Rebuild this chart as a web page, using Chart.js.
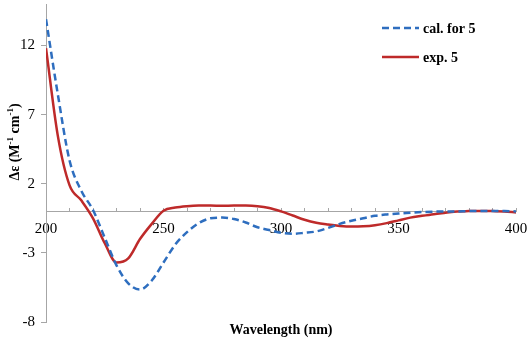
<!DOCTYPE html>
<html>
<head>
<meta charset="utf-8">
<script src="https://cdn.jsdelivr.net/npm/chart.js@4/dist/chart.umd.min.js"></script>
<style>
  html, body { margin: 0; padding: 0; background: #fff; }
  #wrap { width: 529px; height: 340px; position: relative; }
</style>
</head>
<body>
<div id="wrap"><canvas id="cd"></canvas></div>
<script>
const wavelengths = [200, 205, 210, 215, 220, 225, 230, 235, 240, 245, 250, 255, 260, 265, 270, 275, 280, 285, 290, 295,
    300, 305, 310, 315, 320, 325, 330, 335, 340, 345, 350, 355, 360, 365, 370, 375, 380, 385, 390, 395, 400];
const calValues = [13.9, 8.5, 3.7, 1.5, 0.1, -1.9, -3.9, -5.2, -5.65, -5.0, -3.7, -2.4, -1.5, -0.85, -0.5, -0.45, -0.55, -0.8, -1.15, -1.35,
    -1.55, -1.62, -1.55, -1.45, -1.2, -0.9, -0.68, -0.5, -0.32, -0.22, -0.15, -0.1, -0.05, -0.02, 0, 0, 0.02, 0.02, 0.02, 0.02, 0];
const expValues = [11.8, 5.5, 1.9, 0.8, -0.5, -2.3, -3.7, -3.4, -2.0, -0.9, 0.05, 0.28, 0.38, 0.42, 0.42, 0.4, 0.42, 0.42, 0.38, 0.25,
    0, -0.3, -0.6, -0.82, -0.95, -1.05, -1.1, -1.08, -1.0, -0.85, -0.65, -0.45, -0.32, -0.2, -0.1, 0, 0.02, 0.03, 0.02, 0, -0.08];
const seriesNames = ["cal. for 5", "exp. 5"];
const yTickValues = [-8, -3, 2, 7, 12];
const xTickValues = [200, 210, 220, 230, 240, 250, 260, 270, 280, 290, 300, 310, 320, 330, 340, 350, 360, 370, 380, 390, 400];
const xLabelEvery = 50;

const serif = "'Liberation Serif', 'Times New Roman', serif";
const axisGrey = "#a6a6a6";

// Títulos de ejes y leyenda dibujados a mano
const decorPlugin = {
    id: "decor",
    afterDraw(chart) {
        const ctx = chart.ctx;
        const area = chart.chartArea;
        ctx.save();
        ctx.fillStyle = "#000";
        ctx.textBaseline = "middle";

        // título eje x
        ctx.font = "bold 14px " + serif;
        ctx.textAlign = "center";
        ctx.fillText("Wavelength (nm)", (area.left + area.right) / 2, 330);

        // título eje y con superíndices
        ctx.save();
        ctx.translate(15, 142);
        ctx.rotate(-Math.PI / 2);
        const parts = [["Δε (M", false], ["-1", true], [" cm", false], ["-1", true], [")", false]];
        const big = "bold 14px " + serif, small = "bold 9px " + serif;
        let total = 0;
        parts.forEach(p => { ctx.font = p[1] ? small : big; total += ctx.measureText(p[0]).width; });
        let x = -total / 2;
        ctx.textAlign = "left";
        parts.forEach(p => {
            ctx.font = p[1] ? small : big;
            ctx.fillText(p[0], x, p[1] ? -4 : 0);
            x += ctx.measureText(p[0]).width;
        });
        ctx.restore();

        // leyenda
        chart.data.datasets.forEach((ds, i) => {
            const y = 28 + i * 29;
            ctx.beginPath();
            ctx.strokeStyle = ds.borderColor;
            ctx.lineWidth = 2.5;
            ctx.setLineDash(ds.borderDash || []);
            ctx.moveTo(382, y);
            ctx.lineTo(419, y);
            ctx.stroke();
            ctx.setLineDash([]);
            ctx.font = "bold 14px " + serif;
            ctx.textAlign = "left";
            ctx.fillStyle = "#000";
            ctx.fillText(ds.label, 423, y + 1);
        });
        ctx.restore();
    }
};

new Chart(document.getElementById("cd"), {
    type: "line",
    data: {
        datasets: [{
            label: seriesNames[0],
            data: wavelengths.map((w, i) => ({ x: w, y: calValues[i] })),
            borderColor: "#2e6ebf",
            borderWidth: 2.5,
            borderDash: [7, 4],
            pointRadius: 0,
            cubicInterpolationMode: "monotone",
            fill: false
        }, {
            label: seriesNames[1],
            data: wavelengths.map((w, i) => ({ x: w, y: expValues[i] })),
            borderColor: "#be2a2a",
            borderWidth: 2.5,
            pointRadius: 0,
            cubicInterpolationMode: "monotone",
            fill: false
        }]
    },
    options: {
        responsive: true,
        maintainAspectRatio: false,
        animation: false,
        layout: { padding: { top: 4, right: 13, left: 0, bottom: 18 } },
        plugins: {
            legend: { display: false },
            tooltip: { enabled: false }
        },
        scales: {
            x: {
                type: "linear",
                min: 200,
                max: 400,
                position: { y: 0 },
                afterBuildTicks: s => { s.ticks = xTickValues.map(v => ({ value: v })); },
                afterFit: s => { s.height = 18; s.paddingLeft = 0; s.paddingRight = 0; },
                ticks: {
                    autoSkip: false,
                    maxRotation: 0,
                    padding: 13,
                    color: "#000",
                    font: { family: serif, size: 15 },
                    callback: v => (v % xLabelEvery === 0 ? String(v) : "")
                },
                grid: { drawOnChartArea: false, tickLength: -4, color: axisGrey },
                border: { color: axisGrey, width: 1 }
            },
            y: {
                min: -8,
                max: 15,
                afterBuildTicks: s => { s.ticks = yTickValues.map(v => ({ value: v })); },
                afterFit: s => { s.width = 46; s.paddingTop = 0; s.paddingBottom = 0; },
                ticks: {
                    padding: 6,
                    color: "#000",
                    font: { family: serif, size: 15 }
                },
                grid: { drawOnChartArea: false, tickLength: 5, color: axisGrey },
                border: { color: axisGrey, width: 1 }
            }
        }
    },
    plugins: [decorPlugin]
});
</script>
</body>
</html>
